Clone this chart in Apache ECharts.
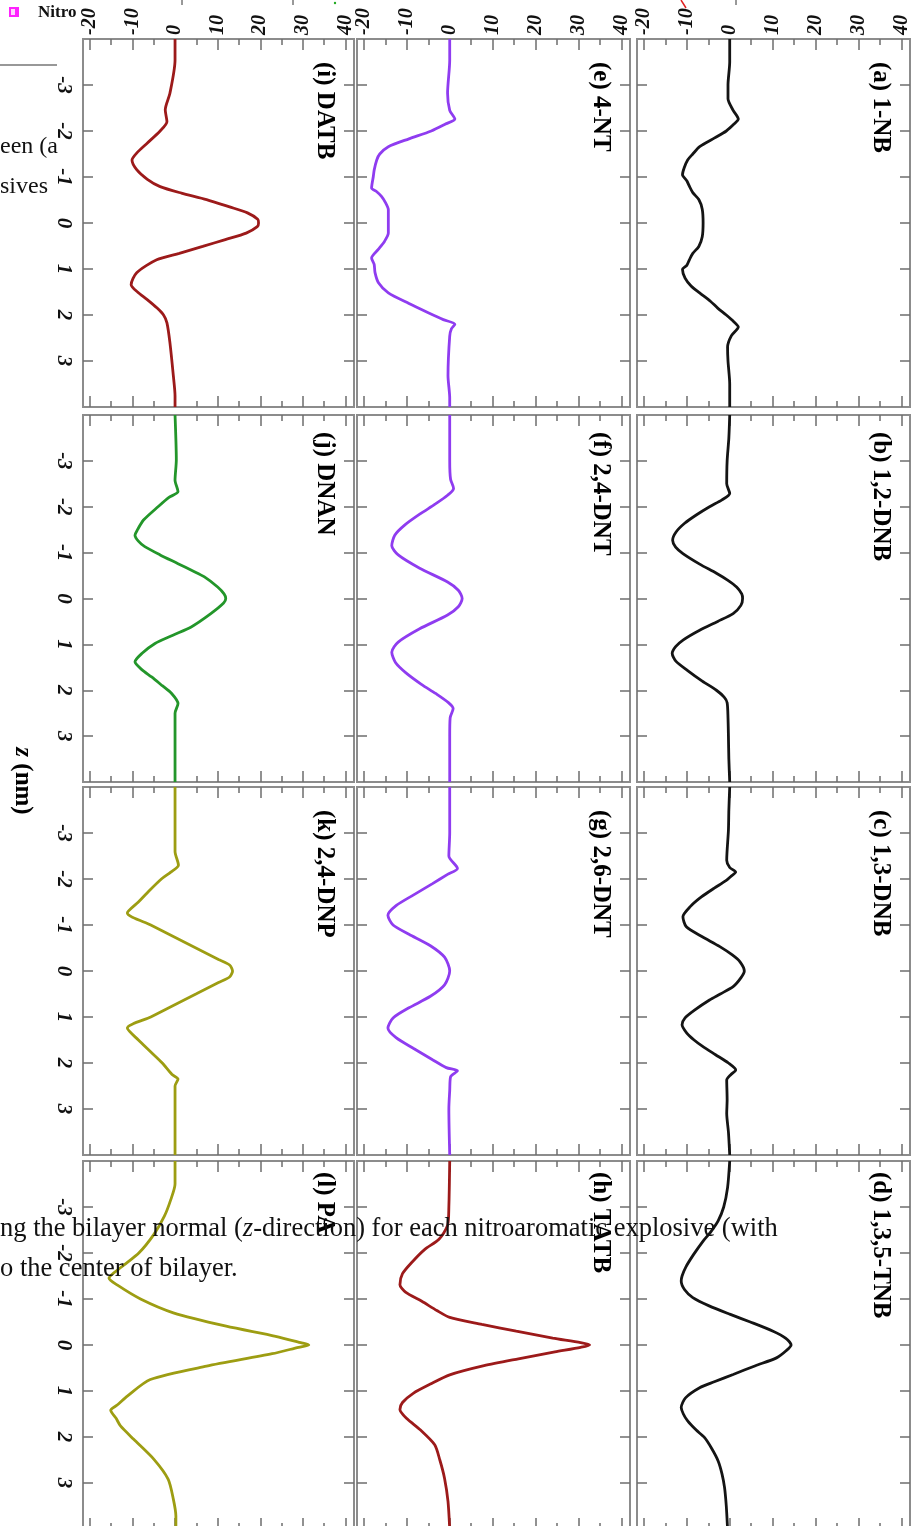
<!DOCTYPE html>
<html>
<head>
<meta charset="utf-8">
<title>Free energy profiles along z</title>
<script src="https://cdn.jsdelivr.net/npm/echarts@6.0.0/dist/echarts.min.js"></script>
<style>
  html, body { margin: 0; padding: 0; background: #fff; }
  #chart { width: 914px; height: 1526px; }
</style>
</head>
<body>
<div id="chart"></div>
<script>
// profiles: [z (nm), value]
const nb1 = [[-4.0, 0.0], [-3.5, 0.0], [-3.0, -0.4], [-2.7, -0.4], [-2.45, 0.8], [-2.26, 2.0], [-2.15, 1.0], [-2.0, -0.8], [-1.85, -3.5], [-1.66, -7.0], [-1.5, -8.6], [-1.37, -9.8], [-1.2, -10.6], [-1.05, -11.0], [-0.92, -10.0], [-0.8, -9.4], [-0.66, -8.6], [-0.51, -7.2], [-0.3, -6.4], [0.0, -6.2], [0.3, -6.4], [0.51, -7.2], [0.66, -8.6], [0.8, -9.4], [0.92, -10.0], [1.01, -11.0], [1.2, -10.4], [1.37, -9.0], [1.52, -7.0], [1.7, -4.5], [1.85, -2.8], [2.0, -0.8], [2.15, 1.0], [2.26, 2.0], [2.45, 0.4], [2.7, -0.5], [3.0, -0.4], [3.5, 0.0], [4.0, 0.0]];
const dnb12 = [[-4.0, 0.0], [-3.5, -0.2], [-3.0, -0.6], [-2.5, -0.7], [-2.29, 0.0], [-2.15, -1.8], [-2.0, -4.7], [-1.82, -7.8], [-1.64, -10.5], [-1.45, -12.5], [-1.27, -13.3], [-1.12, -12.6], [-0.98, -10.9], [-0.75, -7.0], [-0.55, -3.1], [-0.4, -0.5], [-0.25, 1.6], [-0.1, 2.8], [0.0, 3.0], [0.15, 2.6], [0.33, 0.8], [0.5, -2.8], [0.69, -7.0], [0.9, -10.8], [1.05, -12.6], [1.2, -13.4], [1.37, -12.5], [1.57, -9.8], [1.8, -6.4], [2.0, -3.1], [2.15, -1.3], [2.27, -0.6], [2.6, -0.4], [3.0, -0.3], [3.5, -0.2], [4.0, 0.0]];
const dnb13 = [[-4.0, 0.0], [-3.5, -0.2], [-3.06, -0.3], [-2.41, -0.7], [-2.25, 0.0], [-2.15, 1.4], [-2.05, 0.2], [-1.97, -0.8], [-1.8, -3.6], [-1.61, -6.6], [-1.4, -9.2], [-1.18, -10.9], [-0.96, -10.1], [-0.75, -6.5], [-0.53, -2.3], [-0.35, 0.6], [-0.2, 2.4], [0.0, 3.4], [0.15, 2.6], [0.34, 0.8], [0.5, -2.2], [0.63, -4.7], [0.85, -8.2], [1.02, -10.4], [1.17, -11.1], [1.35, -10.0], [1.5, -8.3], [1.64, -6.3], [1.82, -3.3], [2.0, -0.3], [2.15, 1.4], [2.25, 0.3], [2.37, -0.7], [2.8, -0.6], [3.1, -0.7], [3.5, -0.3], [4.0, 0.0]];
const tnb135 = [[-4.0, 0.0], [-3.42, -0.5], [-3.0, -1.4], [-2.7, -2.7], [-2.45, -4.5], [-2.26, -6.2], [-1.97, -8.4], [-1.7, -10.2], [-1.5, -11.1], [-1.39, -11.3], [-1.2, -10.5], [-1.03, -8.6], [-0.85, -4.8], [-0.67, 0.0], [-0.5, 4.8], [-0.3, 10.1], [-0.15, 13.0], [0.0, 14.3], [0.12, 13.2], [0.28, 10.9], [0.45, 6.0], [0.64, 0.8], [0.8, -3.6], [0.93, -7.0], [1.15, -10.3], [1.36, -11.3], [1.5, -10.8], [1.65, -9.8], [1.85, -7.8], [2.01, -5.9], [2.25, -4.2], [2.52, -2.7], [2.8, -1.8], [3.1, -1.2], [3.5, -0.8], [4.0, -0.5]];
const nt4 = [[-4.0, 0.0], [-3.54, 0.0], [-2.82, -0.5], [-2.45, 0.0], [-2.26, 1.2], [-2.15, -1.0], [-2.0, -4.3], [-1.83, -9.5], [-1.66, -14.3], [-1.5, -16.3], [-1.37, -17.0], [-1.15, -17.6], [-1.01, -17.8], [-0.76, -18.2], [-0.68, -17.0], [-0.58, -15.9], [-0.45, -15.0], [-0.29, -14.3], [0.0, -14.3], [0.22, -14.3], [0.4, -15.2], [0.58, -16.7], [0.76, -18.2], [0.9, -17.6], [1.08, -17.4], [1.3, -16.6], [1.52, -14.3], [1.75, -9.5], [1.95, -5.0], [2.1, -1.5], [2.2, 1.2], [2.3, 0.4], [2.46, 0.0], [3.32, -0.4], [3.8, 0.0], [4.0, 0.0]];
const dnt24 = [[-4.0, 0.0], [-3.0, 0.0], [-2.6, 0.2], [-2.4, 0.9], [-2.25, -0.5], [-2.05, -3.5], [-1.85, -6.8], [-1.6, -10.5], [-1.38, -12.8], [-1.15, -13.5], [-0.95, -12.0], [-0.66, -7.0], [-0.36, -0.5], [-0.18, 2.0], [0.0, 2.9], [0.18, 2.0], [0.36, -0.5], [0.66, -7.0], [0.95, -12.0], [1.17, -13.5], [1.4, -12.6], [1.62, -10.2], [1.87, -6.6], [2.07, -3.3], [2.27, -0.3], [2.4, 0.8], [2.6, 0.1], [3.0, 0.0], [4.0, 0.0]];
const dnt26 = [[-4.0, 0.0], [-3.0, 0.0], [-2.5, -0.2], [-2.23, 1.8], [-2.1, -0.5], [-1.9, -4.0], [-1.65, -8.5], [-1.42, -12.5], [-1.21, -14.4], [-1.0, -13.2], [-0.8, -9.5], [-0.55, -4.5], [-0.3, -1.2], [0.0, 0.0], [0.3, -1.2], [0.55, -4.5], [0.8, -9.5], [1.02, -13.2], [1.24, -14.4], [1.45, -12.5], [1.68, -8.5], [1.93, -4.0], [2.1, -0.8], [2.17, 1.8], [2.3, 0.2], [2.6, 0.0], [3.0, -0.2], [4.0, 0.0]];
const tatb = [[-4.0, 0.0], [-3.0, -0.2], [-2.6, -0.5], [-2.3, -2.5], [-2.08, -5.8], [-1.8, -8.8], [-1.55, -11.0], [-1.31, -11.6], [-1.15, -10.3], [-0.95, -6.5], [-0.75, -3.0], [-0.6, 0.0], [-0.45, 7.5], [-0.3, 15.5], [-0.15, 24.0], [-0.05, 30.5], [0.0, 32.6], [0.05, 30.5], [0.15, 24.5], [0.3, 16.0], [0.45, 8.0], [0.65, 0.0], [0.85, -4.5], [1.05, -8.5], [1.25, -11.0], [1.4, -11.6], [1.6, -10.0], [1.85, -6.8], [2.17, -3.5], [2.5, -2.3], [2.9, -1.2], [3.4, -0.4], [4.0, 0.0]];
const datb = [[-4.0, 0.0], [-3.54, 0.0], [-2.82, -1.2], [-2.46, -2.3], [-2.2, -1.9], [-2.0, -3.5], [-1.73, -6.6], [-1.52, -9.0], [-1.37, -10.1], [-1.16, -9.0], [-0.95, -6.5], [-0.79, -3.5], [-0.65, 1.5], [-0.51, 7.4], [-0.35, 12.8], [-0.22, 17.0], [-0.08, 19.4], [0.0, 19.6], [0.08, 19.3], [0.22, 16.7], [0.36, 11.8], [0.51, 6.5], [0.66, 1.0], [0.8, -4.3], [1.08, -9.0], [1.34, -10.3], [1.5, -8.8], [1.66, -6.6], [1.85, -4.2], [2.0, -2.7], [2.17, -1.9], [2.6, -1.2], [3.32, -0.4], [3.76, 0.0], [4.0, 0.0]];
const dnan = [[-4.0, 0.0], [-3.02, 0.3], [-2.58, 0.0], [-2.33, 0.7], [-2.2, -1.5], [-2.0, -4.0], [-1.71, -7.4], [-1.5, -8.8], [-1.38, -9.4], [-1.25, -8.6], [-1.13, -7.1], [-0.95, -3.5], [-0.76, 0.7], [-0.6, 4.2], [-0.47, 6.9], [-0.25, 10.0], [-0.1, 11.5], [0.0, 11.9], [0.1, 11.4], [0.33, 8.4], [0.62, 3.8], [0.8, -0.5], [0.98, -4.7], [1.2, -7.8], [1.38, -9.4], [1.55, -7.8], [1.71, -5.5], [1.9, -3.0], [2.07, -0.8], [2.29, 0.7], [2.5, 0.0], [2.94, 0.0], [4.0, 0.0]];
const dnp24 = [[-4.0, 0.0], [-3.0, 0.0], [-2.6, 0.0], [-2.3, 0.8], [-2.15, -1.0], [-2.0, -3.2], [-1.75, -6.0], [-1.5, -8.6], [-1.26, -11.2], [-1.0, -5.7], [-0.75, -0.4], [-0.5, 4.9], [-0.25, 10.2], [-0.13, 12.8], [0.0, 13.5], [0.13, 12.8], [0.25, 10.2], [0.5, 4.9], [0.75, -0.4], [1.0, -5.7], [1.24, -11.2], [1.5, -8.6], [1.75, -5.8], [2.0, -3.0], [2.25, -0.7], [2.35, 0.7], [2.5, 0.0], [3.0, 0.0], [4.0, 0.0]];
const pa = [[-4.0, 0.0], [-3.5, 0.0], [-3.16, -1.0], [-2.8, -2.5], [-2.4, -5.0], [-2.0, -8.5], [-1.7, -12.5], [-1.45, -15.5], [-1.3, -13.5], [-1.0, -8.1], [-0.7, -0.4], [-0.41, 12.0], [-0.19, 23.6], [-0.05, 29.5], [0.0, 31.4], [0.05, 29.0], [0.19, 22.8], [0.46, 7.4], [0.75, -5.8], [1.11, -11.2], [1.3, -13.5], [1.42, -15.1], [1.6, -13.8], [1.76, -12.8], [2.05, -9.7], [2.48, -5.0], [2.92, -1.6], [3.35, -0.4], [3.72, 0.2], [4.0, 0.2]];

const titles = ['(a) 1-NB', '(b) 1,2-DNB', '(c) 1,3-DNB', '(d) 1,3,5-TNB',
                '(e) 4-NT', '(f) 2,4-DNT', '(g) 2,6-DNT', '(h) TATB',
                '(i) DATB', '(j) DNAN', '(k) 2,4-DNP', '(l) PA'];
const profiles = [nb1, dnb12, dnb13, tnb135, nt4, dnt24, dnt26, tatb, datb, dnan, dnp24, pa];
const majorX = [-20, -10, 0, 10, 20, 30, 40];
const minorX = [-15, -5, 5, 15, 25, 35];
const zTicks = [-3, -2, -1, 0, 1, 2, 3];

const BLACK = '#141414', PURPLE = '#8f3cf0', DARKRED = '#9c1a1a', GREEN = '#23962a', OLIVE = '#9d9d12';
const colors = [BLACK, BLACK, BLACK, BLACK, PURPLE, PURPLE, PURPLE, DARKRED, DARKRED, GREEN, OLIVE, OLIVE];

const SERIF = '"Liberation Serif", "Times New Roman", serif';
const xMin = -21.6, xMax = 42;

// panel layout (figure is printed turned a quarter clockwise)
const colLeft = [637, 357, 83];
const colWidth = [273, 273, 271];
const rowTop = [39, 415, 787, 1161];
const rowHeight = [368, 367, 368, 368];
const titleTop = [62, 432, 810, 1172];

let chart = echarts.init(document.getElementById('chart'), null, { renderer: 'canvas' });

const grids = [], xAxes = [], yAxes = [], series = [], graphics = [];

function tick(vals, len) {
  return { show: true, inside: true, length: len, customValues: vals,
           lineStyle: { color: '#6e6e6e', width: 1.5 } };
}

profiles.forEach(function (prof, k) {
  const col = Math.floor(k / 4), row = k % 4;
  grids.push({
    left: colLeft[col], top: rowTop[row], width: colWidth[col], height: rowHeight[row],
    show: true, borderColor: '#8c8c8c', borderWidth: 2, backgroundColor: 'transparent',
    containLabel: false, outerBoundsMode: 'none'
  });

  const xBase = function (pos) {
    return { gridIndex: k, type: 'value', position: pos, min: xMin, max: xMax,
             axisLine: { show: false, onZero: false }, splitLine: { show: false },
             axisLabel: { show: false } };
  };
  const top = xBase('top');
  top.axisTick = tick(majorX, 11);
  top.axisLabel = { show: row === 0, customValues: majorX, rotate: -90, margin: 4,
                    color: '#111', fontFamily: SERIF, fontSize: 20,
                    fontWeight: 'bold', fontStyle: 'italic' };
  xAxes.push(top);
  const topMinor = xBase('top'); topMinor.axisTick = tick(minorX, 6); xAxes.push(topMinor);
  const bot = xBase('bottom'); bot.axisTick = tick(majorX, 11); xAxes.push(bot);
  const botMinor = xBase('bottom'); botMinor.axisTick = tick(minorX, 6); xAxes.push(botMinor);

  const yBase = function (pos) {
    return { gridIndex: k, type: 'value', position: pos, inverse: true, min: -4, max: 4,
             axisLine: { show: false, onZero: false }, splitLine: { show: false },
             axisTick: tick(zTicks, 10), axisLabel: { show: false } };
  };
  const left = yBase('left');
  left.axisLabel = { show: col === 2, customValues: zTicks, rotate: -90, margin: 9,
                     color: '#111', fontFamily: SERIF, fontSize: 21,
                     fontWeight: 'bold', fontStyle: 'italic' };
  yAxes.push(left);
  yAxes.push(yBase('right'));

  series.push({
    type: 'line',
    xAxisIndex: 4 * k,
    yAxisIndex: 2 * k,
    data: prof.map(function (d) { return [d[1], d[0]]; }),
    showSymbol: false,
    symbol: 'none',
    smooth: 0.25,
    silent: true,
    lineStyle: { color: colors[k], width: 2.8 }
  });

  graphics.push({
    type: 'text',
    x: colLeft[col] + colWidth[col] - 30,
    y: titleTop[row],
    rotation: -Math.PI / 2,
    style: { text: titles[k], fill: '#000', fontFamily: SERIF, fontSize: 25,
             fontWeight: 'bold', align: 'left', verticalAlign: 'middle' }
  });
});

// axis name of the shared z axis
graphics.push({
  type: 'text', x: 22, y: 781, rotation: -Math.PI / 2,
  style: {
    text: '{i|z} (nm)', fill: '#000', fontFamily: SERIF, fontSize: 25, fontWeight: 'bold',
    align: 'center', verticalAlign: 'middle',
    rich: { i: { fontStyle: 'italic', fontFamily: SERIF, fontSize: 25, fontWeight: 'bold' } }
  }
});

// bits of the page the figure sits on
const pageFont = { fill: '#111', fontFamily: SERIF, fontSize: 26.5, verticalAlign: 'middle', align: 'left' };
graphics.push(
  { type: 'rect', shape: { x: 9, y: 7, width: 10, height: 10 }, style: { fill: '#ff22ff' } },
  { type: 'rect', shape: { x: 11, y: 9, width: 4, height: 6 }, style: { fill: '#ffd6ff' } },
  { type: 'text', x: 38, y: 13, style: { text: 'Nitro', fill: '#111', fontFamily: SERIF, fontSize: 17, fontWeight: 'bold', verticalAlign: 'middle' } },
  { type: 'line', shape: { x1: 0, y1: 65, x2: 57, y2: 65 }, style: { stroke: '#333', lineWidth: 1.2 } },
  { type: 'text', x: 0, y: 147, style: Object.assign({}, pageFont, { text: 'een (a', fontSize: 24 }) },
  { type: 'text', x: 0, y: 187, style: Object.assign({}, pageFont, { text: 'sives', fontSize: 24 }) },
  { type: 'text', x: 0, y: 1229, z: 100, style: Object.assign({}, pageFont, {
      text: 'ng the bilayer normal ({i|z}-direction) for each nitroaromatic explosive (with',
      rich: { i: { fontStyle: 'italic', fontFamily: SERIF, fontSize: 26.5, fill: '#111' } } }) },
  { type: 'text', x: 0, y: 1269, z: 100, style: Object.assign({}, pageFont, { text: 'o the center of bilayer.' }) },
  { type: 'line', shape: { x1: 681, y1: 0, x2: 686, y2: 8 }, style: { stroke: '#e02020', lineWidth: 1.5 } },
  { type: 'line', shape: { x1: 182, y1: 0, x2: 182, y2: 5 }, style: { stroke: '#333', lineWidth: 1 } },
  { type: 'line', shape: { x1: 293, y1: 0, x2: 293, y2: 5 }, style: { stroke: '#333', lineWidth: 1 } },
  { type: 'line', shape: { x1: 736, y1: 0, x2: 736, y2: 5 }, style: { stroke: '#333', lineWidth: 1 } },
  { type: 'circle', shape: { cx: 335, cy: 3, r: 1.2 }, style: { fill: '#2a2' } }
);

let option = {
  animation: false,
  backgroundColor: '#fff',
  grid: grids,
  xAxis: xAxes,
  yAxis: yAxes,
  series: series,
  graphic: graphics
};

chart.setOption(option);

window.addEventListener('resize', function () {
  if (chart) {
    chart.resize();
  }
});
</script>
</body>
</html>
